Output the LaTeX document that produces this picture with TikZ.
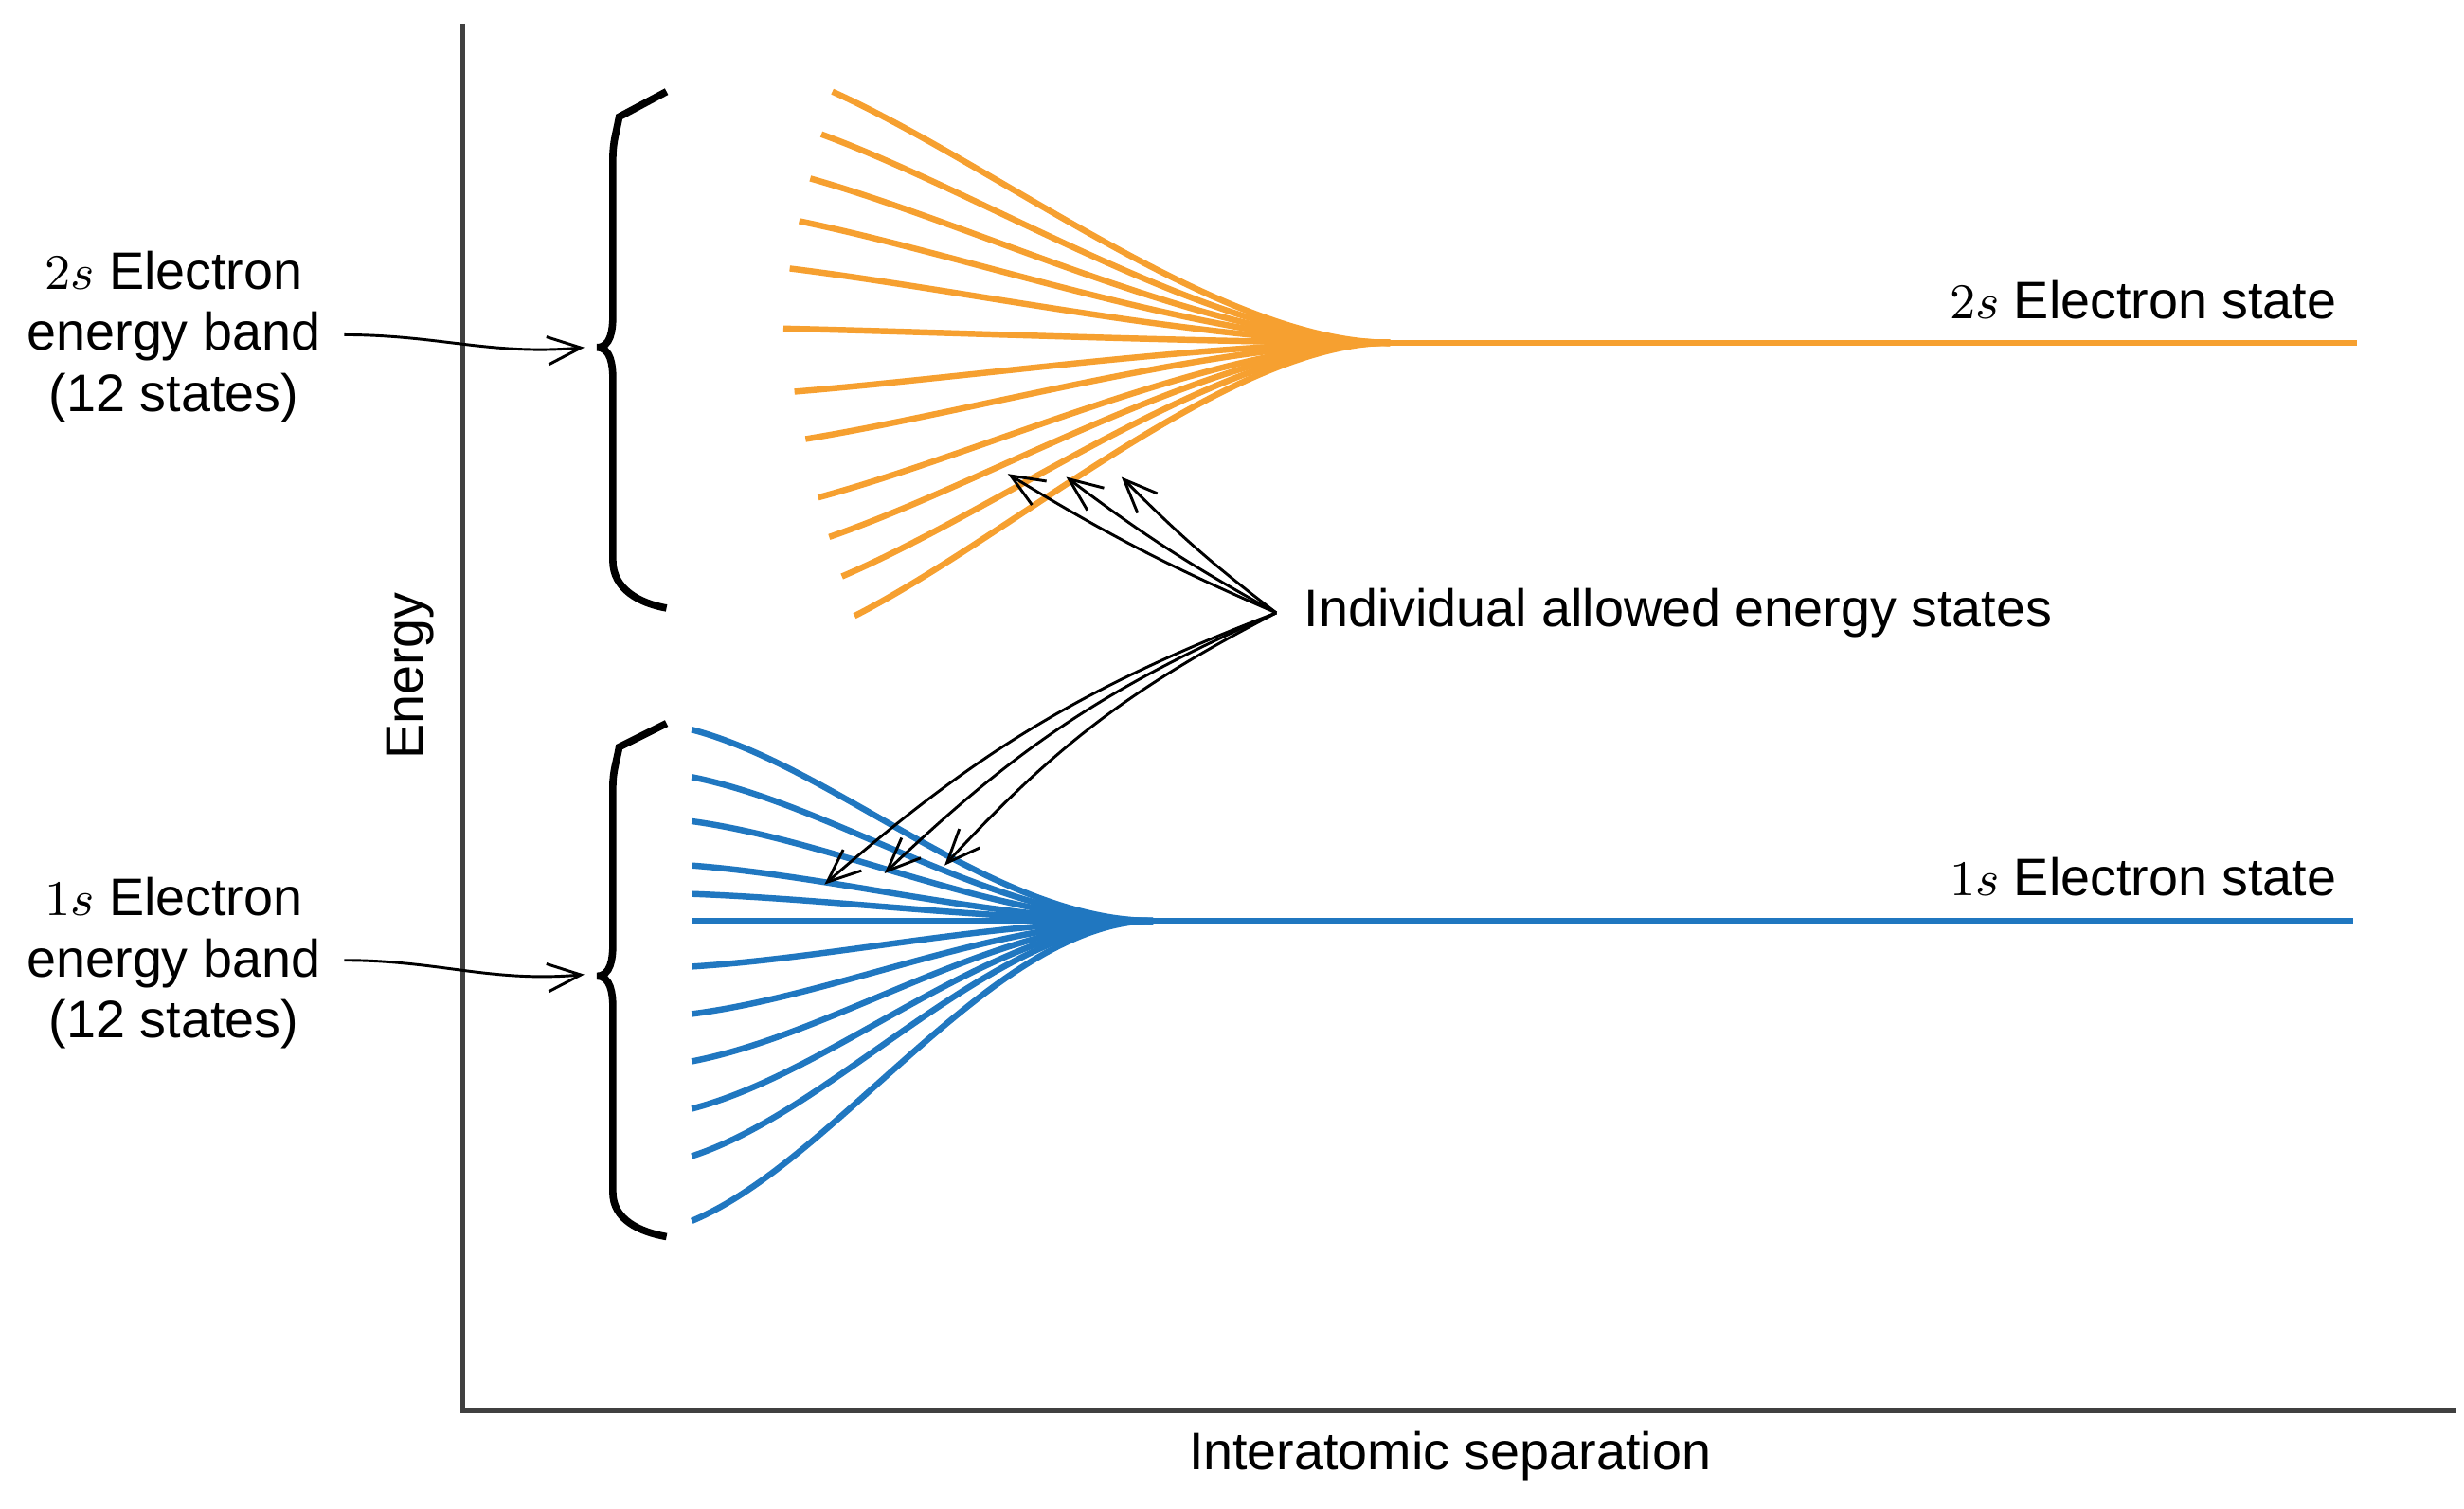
\documentclass[tikz,border=0pt]{standalone}
\usepackage{fontspec}
\setmainfont{Liberation Sans}
\usetikzlibrary{arrows.meta}
\definecolor{orng}{HTML}{F6A030}
\definecolor{blu}{HTML}{2077C0}
\begin{document}
\begin{tikzpicture}[x=0.01cm,y=-0.01cm,
  lbl/.style={font=\fontsize{9.5}{11}\selectfont,inner sep=0pt},
  pt/.style={-{Straight Barb[length=6pt,width=5pt]},line width=0.5pt},
  brace/.style={line width=1.3pt},
  st2/.style={orng,line width=1.1pt},
  st1/.style={blu,line width=1.1pt}]
\useasboundingbox (0,0) rectangle (1560,955);
% axes
\draw[line width=1pt,black!75] (293,15) -- (293,893) -- (1555,893);
\node[lbl,rotate=90] (en) at (260,428) {Energy};
\node[lbl] (sep) at (918,922) {Interatomic separation};
% braces
\draw[brace] (422,58) -- (392,74) to[out=-100,in=90] (388,100) -- (388,200) to[out=-90,in=0] (378,220) to[out=0,in=90] (388,240) -- (388,355) to[out=-90,in=170] (422,385);
\draw[brace] (422,458) -- (392,473) to[out=-100,in=90] (388,498) -- (388,598) to[out=-90,in=0] (378,618) to[out=0,in=90] (388,638) -- (388,755) to[out=-90,in=170] (422,783);
% 2s curves
\foreach \xa/\ya in {527/58,520/85,513/113,506/140,500/170,496/208,503/248,510/278,518/315,525/340,533/365,541/390}{
  \pgfmathsetmacro{\L}{880-\xa}
  \draw[st2] (\xa,\ya) .. controls ({\xa+0.3*\L},{\ya+0.3*(217-\ya)}) and ({880-0.3*\L},217) .. (880,217);
}
\coordinate (c2) at (880,217);
\coordinate (e2) at (1492,217);
\draw[st2] (c2) -- (e2);
% 1s curves
\foreach \ya in {462,492,520,548,566,583,612,642,672,702,732,773}{
  \draw[st1] (438,\ya) .. controls (530,{\ya+0.2*(583-\ya)}) and (630,583) .. (730,583);
}
\coordinate (c1) at (730,583);
\coordinate (e1) at (1490,583);
\draw[st1] (c1) -- (e1);
% state labels
\node[lbl,anchor=east] (l2) at (1480,190) {$2s$ Electron state};
\node[lbl,anchor=east] (l1) at (1480,555) {$1s$ Electron state};
% band labels
\node[lbl,align=center] (b2) at (110,213) {$2s$ Electron\\energy band\\(12 states)};
\node[lbl,align=center] (b1) at (110,610) {$1s$ Electron\\energy band\\(12 states)};
\coordinate (b2s) at (218,212);
\coordinate (b1s) at (218,608);
\coordinate (b2t) at (370,220);
\coordinate (b1t) at (370,617);
\draw[pt] (b2s) to[out=0,in=185] (b2t);
\draw[pt] (b1s) to[out=0,in=185] (b1t);
% individual states
\node[lbl,anchor=west] (ind) at (825,388) {Individual allowed energy states};
\coordinate (s) at (808,388);
\foreach \x/\y in {638/300,675/302,710/302}{
  \coordinate (t) at (\x,\y);
  \draw[pt] (s) to[bend left=4] (t);
}
\foreach \x/\y in {522/560,560/553,598/548}{
  \coordinate (t) at (\x,\y);
  \draw[pt] (s) to[bend right=10] (t);
}
\end{tikzpicture}
\end{document}
